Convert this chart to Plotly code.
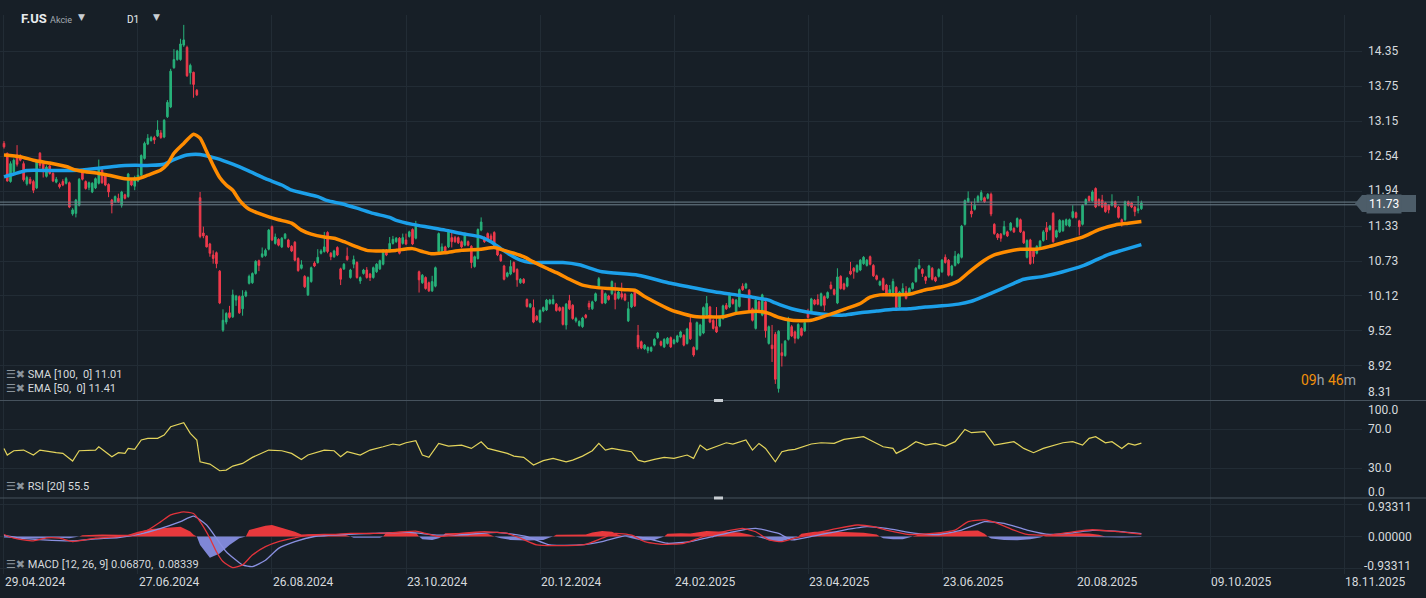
import plotly.graph_objects as go

# ---------------- data ----------------
bar_index = list(range(349))

opens = [
    12.76, 12.59, 12.10, 12.27, 12.56, 12.54, 12.41, 12.06, 12.14, 12.10,
    11.99, 12.59, 12.41, 12.19, 12.37, 12.24, 12.09, 12.05, 12.10, 12.07,
    12.08, 11.54, 11.55, 11.69, 12.25, 12.10, 12.00, 11.92, 11.99, 12.07,
    12.30, 12.21, 12.05, 11.78, 11.75, 11.81, 11.69, 11.87, 11.84, 12.11,
    12.02, 12.11, 12.21, 12.50, 12.75, 12.81, 12.86, 12.89, 12.94, 12.87,
    13.22, 13.39, 14.07, 14.21, 14.21, 14.46, 14.42, 13.98, 13.99, 13.68,
    11.82, 11.21, 11.16, 11.02, 10.83, 10.87, 10.55, 9.53, 9.67, 9.83,
    9.76, 10.05, 10.11, 9.90, 10.12, 10.34, 10.35, 10.51, 10.73, 10.80,
    10.82, 10.93, 11.32, 11.03, 11.10, 10.97, 11.12, 11.09, 10.98, 11.05,
    10.77, 10.60, 10.46, 10.14, 10.37, 10.69, 10.70, 10.86, 10.89, 11.22,
    10.86, 10.80, 10.96, 10.59, 10.59, 10.81, 10.44, 10.67, 10.70, 10.38,
    10.51, 10.57, 10.50, 10.44, 10.54, 10.59, 10.67, 10.91, 10.91, 11.03,
    11.06, 11.12, 11.03, 11.09, 11.15, 11.27, 11.12, 10.54, 10.35, 10.44,
    10.35, 10.21, 10.29, 10.89, 10.87, 10.97, 10.97, 11.13, 11.13, 11.13,
    11.06, 11.00, 11.06, 10.98, 10.63, 10.77, 11.26, 11.13, 11.20, 11.16,
    11.22, 10.97, 10.83, 10.64, 10.46, 10.50, 10.70, 10.58, 10.35, 10.41,
    10.06, 9.93, 9.92, 9.77, 9.67, 9.86, 9.88, 9.99, 9.99, 9.98,
    9.92, 9.92, 9.62, 10.04, 9.96, 9.69, 9.61, 9.59, 9.79, 9.99,
    9.90, 10.04, 10.29, 10.22, 10.00, 10.12, 10.16, 10.16, 10.08, 10.16,
    10.15, 9.69, 9.93, 10.22, 9.44, 9.33, 9.21, 9.18, 9.17, 9.27,
    9.40, 9.33, 9.24, 9.30, 9.40, 9.30, 9.33, 9.41, 9.44, 9.30,
    9.66, 9.23, 9.20, 9.44, 9.48, 9.79, 9.93, 9.70, 9.59, 9.60,
    9.73, 9.96, 9.93, 10.06, 9.82, 9.94, 10.29, 10.26, 10.22, 9.90,
    9.56, 10.02, 9.79, 10.02, 9.30, 9.27, 9.46, 8.52, 9.14, 9.09,
    9.37, 9.59, 9.50, 9.39, 9.56, 9.52, 9.83, 9.85, 10.05, 10.06,
    9.96, 10.11, 10.09, 10.31, 10.23, 10.00, 10.46, 10.33, 10.29, 10.55,
    10.60, 10.54, 10.57, 10.68, 10.65, 10.80, 10.65, 10.47, 10.31, 10.42,
    10.31, 10.17, 10.13, 10.27, 9.93, 10.17, 10.20, 10.17, 10.25, 10.37,
    10.60, 10.58, 10.45, 10.45, 10.60, 10.44, 10.46, 10.54, 10.79, 10.74,
    10.48, 10.65, 10.69, 10.79, 11.36, 11.75, 11.59, 11.62, 11.75, 11.78,
    11.82, 11.81, 11.88, 11.36, 11.19, 11.19, 11.19, 11.23, 11.26, 11.29,
    11.32, 11.44, 11.23, 10.79, 11.09, 10.91, 10.86, 10.97, 11.08, 11.30,
    11.27, 11.55, 11.14, 11.23, 11.25, 11.35, 11.33, 11.48, 11.56, 11.42,
    11.36, 11.71, 11.84, 11.77, 11.98, 11.79, 11.78, 11.73, 11.69, 11.69,
    11.75, 11.66, 11.44, 11.44, 11.75, 11.73, 11.66, 11.60, 11.63,
]
highs = [
    12.80, 12.60, 12.45, 12.50, 12.73, 12.57, 12.45, 12.20, 12.18, 12.13,
    12.46, 12.61, 12.43, 12.38, 12.39, 12.26, 12.18, 12.08, 12.14, 12.18,
    12.10, 11.64, 11.80, 12.16, 12.28, 12.12, 12.10, 12.09, 12.17, 12.48,
    12.33, 12.23, 12.07, 11.80, 11.86, 11.89, 11.94, 11.89, 12.25, 12.14,
    12.20, 12.33, 12.57, 12.79, 12.92, 12.89, 12.89, 13.16, 12.99, 13.18,
    13.51, 14.05, 14.39, 14.38, 14.57, 14.81, 14.45, 14.14, 14.00, 13.70,
    11.92, 11.32, 11.17, 11.04, 10.91, 10.89, 10.57, 9.89, 9.84, 9.95,
    10.23, 10.14, 10.13, 10.22, 10.22, 10.49, 10.53, 10.74, 10.75, 10.96,
    10.94, 11.28, 11.34, 11.20, 11.12, 11.14, 11.21, 11.11, 11.00, 11.07,
    10.79, 10.74, 10.48, 10.46, 10.63, 10.72, 10.93, 10.93, 11.23, 11.24,
    10.88, 10.92, 10.98, 10.61, 10.69, 10.96, 10.59, 10.82, 10.72, 10.46,
    10.59, 10.62, 10.52, 10.63, 10.69, 10.75, 10.93, 10.93, 11.14, 11.16,
    11.14, 11.14, 11.20, 11.20, 11.25, 11.29, 11.42, 10.56, 10.50, 10.46,
    10.37, 10.47, 10.63, 11.22, 11.03, 10.99, 11.27, 11.24, 11.16, 11.15,
    11.08, 11.22, 11.08, 11.00, 10.82, 11.29, 11.48, 11.15, 11.22, 11.20,
    11.24, 10.99, 10.85, 10.66, 10.54, 10.74, 10.72, 10.60, 10.43, 10.43,
    10.08, 10.00, 10.06, 9.79, 9.89, 9.94, 10.07, 10.07, 10.14, 10.00,
    9.94, 9.94, 10.00, 10.14, 9.98, 9.76, 9.70, 9.76, 9.81, 10.04,
    10.04, 10.18, 10.45, 10.24, 10.18, 10.14, 10.39, 10.35, 10.21, 10.35,
    10.17, 10.02, 10.17, 10.24, 9.62, 9.35, 9.29, 9.25, 9.25, 9.39,
    9.50, 9.35, 9.39, 9.41, 9.42, 9.38, 9.45, 9.52, 9.46, 9.57,
    9.76, 9.25, 9.68, 9.64, 9.94, 10.12, 9.95, 9.72, 9.93, 9.75,
    9.97, 10.00, 10.18, 10.08, 10.07, 10.25, 10.34, 10.35, 10.24, 9.92,
    10.10, 10.04, 10.16, 10.04, 9.61, 9.62, 9.50, 9.53, 9.30, 9.36,
    9.76, 9.62, 9.52, 9.65, 9.58, 9.68, 9.90, 10.09, 10.07, 10.15,
    10.18, 10.13, 10.20, 10.37, 10.25, 10.60, 10.48, 10.35, 10.45, 10.71,
    10.62, 10.67, 10.76, 10.81, 10.76, 10.82, 10.67, 10.49, 10.39, 10.44,
    10.33, 10.31, 10.42, 10.29, 10.21, 10.34, 10.29, 10.27, 10.36, 10.62,
    10.76, 10.60, 10.47, 10.66, 10.62, 10.46, 10.60, 10.76, 10.84, 10.76,
    10.66, 10.90, 10.86, 11.35, 11.79, 11.93, 11.75, 11.81, 11.87, 11.95,
    11.84, 11.90, 11.91, 11.38, 11.21, 11.21, 11.42, 11.25, 11.40, 11.31,
    11.48, 11.46, 11.25, 11.10, 11.11, 10.93, 11.00, 11.09, 11.26, 11.40,
    11.35, 11.57, 11.27, 11.45, 11.44, 11.46, 11.46, 11.69, 11.58, 11.44,
    11.71, 11.81, 11.86, 11.95, 12.00, 11.81, 11.87, 11.75, 11.71, 11.88,
    11.77, 11.68, 11.46, 11.77, 11.77, 11.75, 11.68, 11.85, 11.77,
]
lows = [
    12.67, 12.10, 12.08, 12.25, 12.36, 12.45, 12.10, 12.03, 12.05, 11.90,
    11.97, 12.33, 12.17, 12.17, 12.22, 12.09, 12.07, 11.98, 12.02, 12.05,
    11.64, 11.51, 11.48, 11.67, 12.12, 11.96, 11.95, 11.90, 11.97, 12.05,
    12.06, 12.02, 11.83, 11.55, 11.73, 11.73, 11.65, 11.79, 11.82, 12.02,
    11.95, 12.09, 12.19, 12.48, 12.73, 12.79, 12.75, 12.87, 12.84, 12.85,
    13.20, 13.37, 14.05, 14.19, 14.19, 14.43, 13.91, 13.78, 13.55, 13.58,
    11.12, 11.12, 10.96, 10.80, 10.68, 10.60, 9.98, 9.50, 9.63, 9.73,
    9.74, 9.95, 9.81, 9.78, 10.10, 10.32, 10.33, 10.49, 10.55, 10.78,
    10.80, 10.91, 11.07, 11.01, 10.98, 10.95, 11.10, 10.95, 10.88, 10.72,
    10.54, 10.58, 10.26, 10.12, 10.35, 10.62, 10.68, 10.84, 10.87, 10.86,
    10.74, 10.78, 10.81, 10.31, 10.57, 10.73, 10.42, 10.60, 10.42, 10.33,
    10.49, 10.42, 10.38, 10.42, 10.52, 10.57, 10.65, 10.81, 10.89, 11.01,
    11.04, 10.84, 11.01, 11.00, 11.13, 11.00, 11.10, 10.18, 10.33, 10.23,
    10.19, 10.19, 10.27, 10.87, 10.85, 10.87, 10.95, 10.96, 11.04, 11.02,
    10.95, 10.98, 10.98, 10.60, 10.61, 10.75, 11.24, 11.04, 11.07, 11.08,
    10.95, 10.81, 10.71, 10.39, 10.44, 10.48, 10.52, 10.28, 10.33, 10.33,
    9.92, 9.91, 9.65, 9.69, 9.65, 9.84, 9.86, 9.97, 9.97, 9.85,
    9.85, 9.61, 9.54, 9.88, 9.71, 9.66, 9.59, 9.57, 9.73, 9.88,
    9.88, 10.02, 10.27, 9.98, 9.98, 10.04, 10.14, 9.89, 10.06, 10.06,
    10.03, 9.67, 9.91, 9.93, 9.20, 9.20, 9.19, 9.13, 9.15, 9.25,
    9.38, 9.25, 9.22, 9.28, 9.22, 9.28, 9.31, 9.39, 9.25, 9.28,
    9.36, 9.07, 9.18, 9.42, 9.46, 9.77, 9.65, 9.54, 9.48, 9.58,
    9.71, 9.88, 9.91, 9.97, 9.80, 9.92, 10.21, 10.24, 9.83, 9.68,
    9.54, 9.87, 9.77, 9.40, 9.28, 8.98, 8.60, 8.45, 8.90, 9.07,
    9.35, 9.41, 9.30, 9.37, 9.42, 9.50, 9.73, 9.83, 9.96, 9.96,
    9.94, 9.86, 10.07, 10.23, 10.13, 9.98, 10.23, 10.22, 10.27, 10.48,
    10.42, 10.52, 10.55, 10.66, 10.63, 10.65, 10.45, 10.39, 10.29, 10.21,
    10.14, 10.13, 10.11, 9.90, 9.91, 10.15, 10.06, 10.15, 10.23, 10.35,
    10.58, 10.45, 10.33, 10.43, 10.39, 10.36, 10.44, 10.52, 10.68, 10.46,
    10.46, 10.63, 10.67, 10.77, 11.34, 11.73, 11.48, 11.60, 11.73, 11.76,
    11.73, 11.79, 11.50, 11.18, 11.09, 11.06, 11.17, 11.14, 11.24, 11.21,
    11.30, 11.21, 11.02, 10.77, 10.66, 10.68, 10.84, 10.95, 11.06, 11.09,
    11.25, 11.04, 11.12, 11.21, 11.23, 11.33, 11.31, 11.46, 11.46, 11.17,
    11.34, 11.69, 11.75, 11.75, 11.64, 11.67, 11.64, 11.56, 11.55, 11.67,
    11.64, 11.46, 11.32, 11.42, 11.67, 11.64, 11.50, 11.55, 11.61,
]
closes = [
    12.70, 12.11, 12.41, 12.47, 12.40, 12.47, 12.13, 12.17, 12.07, 11.95,
    12.44, 12.38, 12.30, 12.35, 12.24, 12.11, 12.14, 12.01, 12.04, 12.15,
    11.66, 11.61, 11.78, 12.14, 12.14, 11.98, 12.08, 12.07, 12.15, 12.35,
    12.08, 12.04, 11.92, 11.69, 11.84, 11.75, 11.92, 11.81, 12.23, 12.04,
    12.17, 12.21, 12.55, 12.76, 12.85, 12.86, 12.82, 12.99, 12.86, 13.16,
    13.47, 14.01, 14.21, 14.36, 14.48, 14.55, 13.93, 14.11, 13.78, 13.60,
    11.15, 11.16, 10.97, 10.86, 10.77, 10.68, 10.00, 9.70, 9.82, 9.75,
    10.14, 10.12, 9.83, 10.12, 10.19, 10.46, 10.51, 10.72, 10.65, 10.85,
    10.91, 11.26, 11.09, 11.14, 11.00, 11.12, 11.19, 10.97, 10.90, 10.74,
    10.56, 10.66, 10.28, 10.44, 10.61, 10.64, 10.79, 10.90, 10.97, 10.89,
    10.80, 10.90, 10.83, 10.41, 10.67, 10.75, 10.57, 10.75, 10.44, 10.44,
    10.57, 10.44, 10.44, 10.61, 10.67, 10.73, 10.91, 10.83, 11.03, 11.10,
    11.12, 10.86, 11.13, 11.02, 11.23, 11.02, 11.36, 10.40, 10.48, 10.25,
    10.21, 10.37, 10.61, 11.20, 10.97, 10.89, 11.25, 11.06, 11.06, 11.04,
    10.97, 11.20, 11.00, 10.70, 10.80, 11.27, 11.40, 11.06, 11.09, 11.10,
    10.97, 10.83, 10.73, 10.41, 10.52, 10.63, 10.54, 10.40, 10.41, 10.35,
    9.94, 9.98, 9.67, 9.71, 9.87, 9.92, 10.05, 10.05, 10.06, 9.87,
    9.87, 9.63, 9.98, 9.90, 9.73, 9.73, 9.68, 9.74, 9.75, 9.93,
    10.02, 10.16, 10.42, 10.00, 10.16, 10.06, 10.37, 10.06, 10.19, 10.10,
    10.05, 9.90, 10.15, 9.95, 9.24, 9.22, 9.27, 9.23, 9.23, 9.37,
    9.48, 9.27, 9.37, 9.39, 9.24, 9.36, 9.43, 9.50, 9.27, 9.55,
    9.38, 9.10, 9.66, 9.62, 9.92, 9.99, 9.67, 9.56, 9.50, 9.73,
    9.95, 9.90, 10.16, 9.99, 10.05, 10.23, 10.23, 10.33, 9.85, 9.70,
    10.05, 9.89, 10.14, 9.52, 9.59, 9.21, 8.68, 9.51, 9.09, 9.34,
    9.70, 9.43, 9.39, 9.63, 9.44, 9.66, 9.75, 10.07, 9.98, 9.98,
    10.16, 9.96, 10.18, 10.25, 10.15, 10.45, 10.25, 10.24, 10.43, 10.50,
    10.55, 10.65, 10.74, 10.79, 10.74, 10.67, 10.47, 10.41, 10.37, 10.23,
    10.16, 10.23, 10.37, 9.92, 10.19, 10.25, 10.08, 10.25, 10.34, 10.60,
    10.65, 10.51, 10.39, 10.64, 10.41, 10.38, 10.58, 10.74, 10.70, 10.48,
    10.64, 10.81, 10.84, 11.33, 11.77, 11.81, 11.54, 11.69, 11.84, 11.91,
    11.75, 11.88, 11.54, 11.20, 11.13, 11.12, 11.32, 11.16, 11.38, 11.23,
    11.46, 11.23, 11.04, 11.08, 10.68, 10.80, 10.98, 11.07, 11.23, 11.23,
    11.33, 11.06, 11.25, 11.43, 11.42, 11.44, 11.44, 11.58, 11.48, 11.32,
    11.69, 11.79, 11.77, 11.92, 11.66, 11.69, 11.66, 11.58, 11.61, 11.75,
    11.66, 11.48, 11.40, 11.75, 11.69, 11.66, 11.58, 11.63, 11.73,
]

sma_points = [
    (0, 12.18), (3, 12.23), (7, 12.29), (14, 12.29), (19, 12.29), (24, 12.30), (29, 12.33),
    (35, 12.37), (40, 12.38), (45, 12.38), (49, 12.40), (52, 12.48), (56, 12.56), (60, 12.57),
    (65, 12.50), (70, 12.40), (75, 12.28), (80, 12.15), (85, 12.04), (88, 11.95), (93, 11.88),
    (96, 11.84), (99, 11.77), (103, 11.72), (108, 11.64), (113, 11.55), (118, 11.48), (120, 11.43),
    (125, 11.36), (130, 11.31), (135, 11.26), (140, 11.20), (146, 11.14), (149, 11.06), (152, 10.94),
    (155, 10.83), (158, 10.74), (161, 10.70), (166, 10.70), (171, 10.70), (176, 10.66), (183, 10.54),
    (194, 10.48), (204, 10.34), (214, 10.23), (219, 10.18), (224, 10.14), (229, 10.10), (234, 10.05),
    (236, 10.00), (241, 9.90), (247, 9.83), (250, 9.81), (257, 9.79), (262, 9.83), (267, 9.86),
    (272, 9.89), (277, 9.90), (282, 9.93), (287, 9.95), (292, 9.98), (296, 10.03), (300, 10.12),
    (305, 10.24), (309, 10.34), (312, 10.41), (318, 10.46), (324, 10.54), (330, 10.64), (334, 10.74),
    (338, 10.84), (342, 10.91), (348, 11.01),
]
ema_points = [
    (0, 12.56), (5, 12.53), (9, 12.47), (14, 12.42), (19, 12.36), (22, 12.30), (25, 12.27),
    (29, 12.24), (32, 12.21), (37, 12.15), (41, 12.15), (44, 12.21), (48, 12.30), (50, 12.40),
    (52, 12.59), (55, 12.76), (58, 12.92), (60, 12.85), (62, 12.62), (64, 12.38), (66, 12.17),
    (68, 12.04), (70, 11.95), (72, 11.78), (75, 11.62), (78, 11.55), (81, 11.49), (84, 11.44),
    (88, 11.38), (91, 11.26), (94, 11.19), (98, 11.14), (101, 11.12), (104, 11.06), (108, 10.97),
    (111, 10.91), (114, 10.90), (118, 10.90), (120, 10.91), (125, 10.94), (128, 10.89), (131, 10.85),
    (135, 10.87), (140, 10.91), (146, 10.93), (150, 10.96), (153, 10.91), (156, 10.86), (159, 10.80),
    (162, 10.71), (166, 10.60), (170, 10.50), (173, 10.41), (177, 10.31), (181, 10.27), (185, 10.25),
    (190, 10.23), (193, 10.22), (196, 10.11), (200, 9.99), (204, 9.88), (208, 9.81), (212, 9.76),
    (216, 9.76), (220, 9.76), (224, 9.82), (228, 9.85), (232, 9.85), (234, 9.82), (237, 9.75),
    (241, 9.70), (247, 9.70), (252, 9.79), (257, 9.89), (262, 9.99), (265, 10.10), (268, 10.14),
    (272, 10.14), (277, 10.15), (282, 10.23), (287, 10.28), (292, 10.38), (296, 10.57), (300, 10.74),
    (303, 10.83), (307, 10.89), (311, 10.93), (316, 10.93), (320, 10.98), (325, 11.06), (330, 11.14),
    (335, 11.27), (340, 11.35), (344, 11.38), (348, 11.41),
]
rsi_points = [
    (0, 50.1), (1, 43.3), (3, 47.7), (6, 48.4), (9, 43.3), (11, 48.4), (16, 45.7), (18, 45.0),
    (21, 37.1), (23, 47.7), (28, 48.4), (29, 51.8), (31, 46.7), (33, 41.6), (35, 45.7), (37, 45.0),
    (38, 50.1), (40, 49.1), (42, 58.7), (44, 60.4), (47, 60.4), (49, 63.8), (51, 72.3), (53, 74.7),
    (55, 76.4), (57, 65.5), (59, 58.7), (60, 36.4), (63, 34.0), (66, 27.2), (68, 27.9), (70, 32.0),
    (73, 34.7), (76, 40.9), (81, 48.4), (85, 47.7), (88, 45.0), (91, 38.8), (93, 43.3), (98, 48.4),
    (101, 47.7), (103, 41.6), (105, 46.7), (109, 43.3), (112, 48.4), (116, 51.8), (119, 54.6),
    (121, 53.5), (123, 55.9), (126, 58.0), (128, 43.3), (130, 40.9), (133, 55.2), (136, 52.5),
    (140, 53.5), (143, 50.1), (146, 56.9), (148, 50.1), (152, 46.7), (154, 45.0), (156, 42.2),
    (159, 40.9), (162, 33.0), (165, 37.5), (168, 39.9), (172, 36.4), (174, 38.1), (177, 42.2),
    (180, 47.7), (182, 55.2), (184, 48.4), (186, 50.1), (189, 48.4), (192, 46.7), (194, 38.1),
    (196, 36.4), (199, 38.8), (202, 40.9), (205, 39.9), (209, 43.3), (211, 39.9), (213, 53.5),
    (215, 48.4), (218, 51.8), (221, 55.9), (223, 54.6), (227, 58.7), (229, 48.4), (231, 55.2),
    (233, 50.1), (236, 36.4), (238, 46.7), (240, 48.4), (242, 49.1), (247, 54.6), (250, 55.9),
    (254, 55.2), (257, 59.3), (260, 60.4), (263, 62.1), (266, 57.0), (269, 51.8), (272, 50.1),
    (273, 45.0), (276, 50.1), (279, 57.0), (282, 53.5), (285, 55.2), (288, 52.5), (291, 57.0),
    (294, 69.6), (296, 66.2), (300, 67.2), (303, 53.5), (306, 55.2), (309, 57.0), (312, 50.1),
    (315, 45.7), (318, 50.1), (320, 51.8), (324, 55.9), (327, 57.0), (330, 53.5), (332, 60.4),
    (334, 62.1), (337, 55.9), (339, 57.0), (342, 50.1), (344, 55.2), (346, 53.5), (348, 55.5),
]
macd_points = [
    (0, 0.06), (3, -0.05), (9, -0.13), (13, -0.04), (17, -0.05), (21, -0.15), (28, -0.05),
    (35, 0.0), (39, 0.04), (44, 0.19), (48, 0.44), (51, 0.64), (55, 0.73), (58, 0.68), (60, 0.44),
    (63, -0.05), (65, -0.45), (67, -0.74), (70, -0.92), (73, -0.84), (76, -0.55), (80, -0.30),
    (84, -0.15), (89, -0.04), (93, 0.04), (100, 0.06), (106, 0.09), (113, 0.09), (120, 0.12),
    (126, 0.16), (129, 0.09), (133, 0.0), (140, 0.09), (147, 0.14), (154, 0.09), (158, -0.05),
    (163, -0.25), (169, -0.27), (178, -0.23), (183, -0.05), (187, 0.09), (192, 0.04), (196, -0.15),
    (201, -0.23), (208, -0.20), (214, 0.0), (221, 0.16), (226, 0.24), (230, 0.14), (234, -0.10),
    (238, -0.15), (242, -0.05), (248, 0.09), (255, 0.24), (261, 0.34), (266, 0.29), (270, 0.19),
    (277, 0.06), (284, 0.09), (291, 0.19), (295, 0.44), (300, 0.49), (304, 0.39), (309, 0.19),
    (313, 0.06), (320, 0.04), (327, 0.14), (333, 0.20), (340, 0.15), (348, 0.0687),
]
signal_points = [
    (0, 0.03), (5, -0.05), (12, -0.10), (21, -0.13), (28, -0.07), (35, -0.03), (41, 0.06),
    (48, 0.24), (54, 0.44), (58, 0.60), (62, 0.34), (65, -0.05), (68, -0.45), (73, -0.84),
    (76, -0.89), (80, -0.70), (84, -0.35), (89, -0.15), (95, 0.0), (104, 0.06), (113, 0.09),
    (124, 0.12), (133, 0.04), (142, 0.06), (151, 0.12), (160, 0.0), (167, -0.25), (176, -0.25),
    (183, -0.15), (190, 0.02), (196, -0.04), (203, -0.20), (210, -0.15), (217, 0.0), (223, 0.14),
    (230, 0.24), (237, 0.09), (241, -0.10), (248, 0.02), (257, 0.19), (264, 0.29), (270, 0.24),
    (279, 0.09), (286, 0.06), (293, 0.19), (300, 0.44), (306, 0.39), (313, 0.19), (320, 0.06),
    (327, 0.11), (333, 0.18), (340, 0.16), (348, 0.0834),
]
hist_points = [
    (0, -0.03), (5, -0.05), (10, -0.06), (15, -0.03), (20, -0.05), (23, 0.0), (24, 0.04), (30, 0.06),
    (35, 0.05), (38, 0.05), (41, 0.14), (45, 0.22), (50, 0.26), (54, 0.29), (57, 0.15), (58, 0.05),
    (59, 0.0), (60, -0.25), (63, -0.63), (66, -0.50), (69, -0.25), (72, -0.05), (74, 0.0), (75, 0.19),
    (80, 0.32), (82, 0.34), (85, 0.26), (89, 0.14), (91, 0.06), (93, 0.07), (98, 0.08), (104, 0.06),
    (106, 0.0), (107, -0.04), (112, -0.05), (115, -0.04), (116, 0.0), (117, 0.12), (122, 0.14),
    (126, 0.12), (127, 0.0), (128, -0.08), (131, -0.10), (133, -0.05), (134, 0.0), (135, 0.10),
    (140, 0.12), (145, 0.12), (148, 0.08), (150, 0.0), (152, -0.05), (155, -0.10), (160, -0.12),
    (165, -0.10), (167, -0.03), (168, 0.0), (169, 0.05), (174, 0.06), (178, 0.06), (180, 0.12),
    (183, 0.16), (186, 0.14), (188, 0.05), (190, 0.0), (192, -0.05), (195, -0.12), (199, -0.10),
    (201, -0.03), (202, 0.0), (203, 0.08), (207, 0.10), (210, 0.09), (212, 0.12), (215, 0.16),
    (220, 0.14), (225, 0.12), (228, 0.06), (230, 0.0), (232, -0.05), (235, -0.13), (238, -0.14),
    (241, -0.06), (243, 0.0), (244, 0.08), (248, 0.14), (253, 0.15), (258, 0.14), (263, 0.11),
    (267, 0.06), (268, 0.0), (269, -0.05), (272, -0.08), (275, -0.08), (277, -0.03), (278, 0.0),
    (280, 0.06), (285, 0.10), (290, 0.12), (295, 0.17), (298, 0.18), (300, 0.08), (301, 0.0),
    (302, -0.06), (306, -0.10), (310, -0.11), (314, -0.08), (317, -0.03), (318, 0.0), (320, 0.04),
    (324, 0.08), (328, 0.10), (332, 0.09), (335, 0.05), (337, 0.0), (338, -0.02), (342, -0.03),
    (345, -0.02), (348, -0.015),
]

date_tick_idx = [0, 41, 82, 123, 164, 205, 246, 287, 328, 369, 410]
date_tick_text = ["29.04.2024", "27.06.2024", "26.08.2024", "23.10.2024", "20.12.2024", "24.02.2025",
                  "23.04.2025", "23.06.2025", "20.08.2025", "09.10.2025", "18.11.2025"]
price_tick_vals = [14.35, 13.746, 13.142, 12.538, 11.934, 11.33, 10.726, 10.122, 9.518, 8.914, 8.313]
price_tick_text = ["14.35", "13.75", "13.15", "12.54", "11.94", "11.33", "10.73", "10.12", "9.52", "8.92", "8.31"]
rsi_tick_vals = [100, 70, 30, 0]
rsi_tick_text = ["100.0", "70.0", "30.0", "0.0"]
macd_tick_vals = [0.93311, 0.0, -0.93311]
macd_tick_text = ["0.93311", "0.00000", "-0.93311"]
last_price = 11.73
quote_lines = [11.745, 11.698]
sma_last, ema_last, rsi_last = 11.01, 11.41, 55.5
macd_last, signal_last = 0.06870, 0.08339

# ---------------- geometry / style ----------------
W, H = 1426, 598
ML, MR, MT, MB = 0, 64, 15, 24
PW, PH = W - ML - MR, H - MT - MB
BG = "#171f27"
GRID = "#222c35"
SEP = "#46525d"
TXT = "#d6dade"
FONT = "Roboto, 'Noto Sans', 'DejaVu Sans', sans-serif"
GREEN, RED = "#27b27a", "#ef3a4c"


def py(p):
    return (H - MB - p) / PH


def pxp(p):
    return (p - ML) / PW


XR = [-1.22, 415.5]
price_dom = [py(400.5), 1.0]
rsi_dom = [py(498), py(400.5)]
macd_dom = [0.0, py(498)]

fig = go.Figure()

fig.add_trace(go.Candlestick(
    x=bar_index, open=opens, high=highs, low=lows, close=closes,
    increasing=dict(line=dict(color=GREEN, width=1), fillcolor=GREEN),
    decreasing=dict(line=dict(color=RED, width=1), fillcolor=RED),
    whiskerwidth=0, hoverinfo="skip", showlegend=False, xaxis="x", yaxis="y"))

for q in quote_lines:
    fig.add_trace(go.Scatter(x=[XR[0], XR[1]], y=[q, q], mode="lines",
                             line=dict(color="#6f808c", width=1), hoverinfo="skip",
                             showlegend=False, xaxis="x", yaxis="y"))

fig.add_trace(go.Scatter(x=[p[0] for p in sma_points], y=[p[1] for p in sma_points], mode="lines",
                         line=dict(color="#1ca0ea", width=3.5, shape="spline", smoothing=0.6),
                         hoverinfo="skip", showlegend=False, xaxis="x", yaxis="y"))
fig.add_trace(go.Scatter(x=[p[0] for p in ema_points], y=[p[1] for p in ema_points], mode="lines",
                         line=dict(color="#ff8c00", width=3.5, shape="spline", smoothing=0.6),
                         hoverinfo="skip", showlegend=False, xaxis="x", yaxis="y"))

fig.add_trace(go.Scatter(x=[p[0] for p in rsi_points], y=[p[1] for p in rsi_points], mode="lines",
                         line=dict(color="#e3d45c", width=1.2), hoverinfo="skip",
                         showlegend=False, xaxis="x2", yaxis="y2"))

h_idx = [p[0] for p in hist_points]
h_val = [p[1] for p in hist_points]
fig.add_trace(go.Scatter(x=h_idx, y=[v if v > 0 else 0 for v in h_val], mode="lines",
                         line=dict(width=0, color="#e8393d"), fill="tozeroy", fillcolor="#e8393d",
                         hoverinfo="skip", showlegend=False, xaxis="x3", yaxis="y3"))
fig.add_trace(go.Scatter(x=h_idx, y=[v if v < 0 else 0 for v in h_val], mode="lines",
                         line=dict(width=0, color="#7f87d6"), fill="tozeroy", fillcolor="#7f87d6",
                         hoverinfo="skip", showlegend=False, xaxis="x3", yaxis="y3"))
fig.add_trace(go.Scatter(x=[p[0] for p in signal_points], y=[p[1] for p in signal_points], mode="lines",
                         line=dict(color="#8a90e0", width=1.3, shape="spline", smoothing=0.5),
                         hoverinfo="skip", showlegend=False, xaxis="x3", yaxis="y3"))
fig.add_trace(go.Scatter(x=[p[0] for p in macd_points], y=[p[1] for p in macd_points], mode="lines",
                         line=dict(color="#e2333b", width=1.3, shape="spline", smoothing=0.5),
                         hoverinfo="skip", showlegend=False, xaxis="x3", yaxis="y3"))

xcommon = dict(range=XR, showticklabels=False, tickvals=date_tick_idx, showgrid=True,
               gridcolor=GRID, gridwidth=1, zeroline=False, showline=False, ticks="", fixedrange=True)
ycommon = dict(showticklabels=False, showgrid=True, gridcolor=GRID, gridwidth=1, zeroline=False,
               showline=False, ticks="", side="right", fixedrange=True)

fig.update_layout(
    width=W, height=H, margin=dict(l=ML, r=MR, t=MT, b=MB),
    paper_bgcolor=BG, plot_bgcolor=BG, hovermode=False, showlegend=False,
    font=dict(family=FONT, color=TXT, size=12),
    xaxis=dict(xcommon, anchor="y", rangeslider=dict(visible=False)),
    xaxis2=dict(xcommon, anchor="y2", matches="x"),
    xaxis3=dict(xcommon, anchor="y3", matches="x"),
    yaxis=dict(ycommon, domain=price_dom, range=[8.313, 14.981], tickvals=price_tick_vals[:-1]),
    yaxis2=dict(ycommon, domain=rsi_dom, range=[-0.77, 99.23], tickvals=[70, 30]),
    yaxis3=dict(ycommon, domain=macd_dom, range=[-1.109, 1.139], tickvals=macd_tick_vals),
)

shapes = []
for yy in (400.5, 498):
    shapes.append(dict(type="line", xref="paper", yref="paper", x0=pxp(0), x1=pxp(W),
                       y0=py(yy), y1=py(yy), line=dict(color=SEP, width=1)))
    shapes.append(dict(type="rect", xref="paper", yref="paper", x0=pxp(714), x1=pxp(723),
                       y0=py(yy + 1.5), y1=py(yy - 1.5), line=dict(width=0), fillcolor="#c9ced3"))
bx0, bx1, by0, by1, tip = 1362, 1416, 195, 212, 1355
path = (f"M {pxp(tip)} {py((by0 + by1) / 2)} L {pxp(bx0)} {py(by0)} L {pxp(bx1)} {py(by0)} "
        f"L {pxp(bx1)} {py(by1)} L {pxp(bx0)} {py(by1)} Z")
shapes.append(dict(type="path", xref="paper", yref="paper", path=path,
                   fillcolor="#4d5d69", line=dict(width=0)))
fig.update_layout(shapes=shapes)

ann = []
XL = pxp(1366)
for v, t in zip(price_tick_vals, price_tick_text):
    if t == "8.31":
        ann.append(dict(x=XL, xref="paper", y=py(400.5), yref="paper", text=t, showarrow=False,
                        xanchor="left", yanchor="bottom", font=dict(size=12, color=TXT)))
    elif t == "11.94":
        ann.append(dict(x=XL, xref="paper", y=v, yref="y", text=t, showarrow=False,
                        xanchor="left", yanchor="middle", yshift=1, font=dict(size=12, color=TXT)))
    else:
        ann.append(dict(x=XL, xref="paper", y=v, yref="y", text=t, showarrow=False,
                        xanchor="left", yanchor="middle", font=dict(size=12, color=TXT)))
ann.append(dict(x=XL, xref="paper", y=py(203.5), yref="paper", text=f"{last_price:.2f}", showarrow=False,
                xanchor="left", yanchor="middle", bgcolor="#4d5d69", borderpad=2,
                font=dict(size=12, color="#ffffff")))
rsi_anchor = {"100.0": ("top", py(401), 0), "0.0": ("bottom", py(498), -3)}
for v, t in zip(rsi_tick_vals, rsi_tick_text):
    if t in rsi_anchor:
        ya, yp, ys = rsi_anchor[t]
        ann.append(dict(x=XL, xref="paper", y=yp, yref="paper", text=t, showarrow=False, yshift=ys,
                        xanchor="left", yanchor=ya, font=dict(size=12, color=TXT)))
    else:
        ann.append(dict(x=XL, xref="paper", y=v, yref="y2", text=t, showarrow=False,
                        xanchor="left", yanchor="middle", font=dict(size=12, color=TXT)))
for v, t in zip(macd_tick_vals, macd_tick_text):
    if t == "0.93311":
        ann.append(dict(x=XL, xref="paper", y=py(498), yref="paper", text=t, showarrow=False,
                        xanchor="left", yanchor="top", font=dict(size=12, color=TXT)))
    elif t == "0.00000":
        ann.append(dict(x=XL, xref="paper", y=v, yref="y3", text=t, showarrow=False,
                        xanchor="left", yanchor="middle", font=dict(size=12, color=TXT)))
    else:
        ann.append(dict(x=pxp(1362), xref="paper", y=v, yref="y3", text=t, showarrow=False,
                        xanchor="left", yanchor="middle", yshift=2, font=dict(size=12, color=TXT)))
for i, t in zip(date_tick_idx, date_tick_text):
    ann.append(dict(x=i, xref="x3", y=py(582), yref="paper", text=t, showarrow=False,
                    xanchor="left", yanchor="middle", xshift=-1, font=dict(size=12, color=TXT)))

icon = "<span style='color:#8b949c'>☰✖</span> "
ann += [
    dict(x=pxp(4), xref="paper", y=py(374), yref="paper", showarrow=False, xanchor="left",
         yanchor="middle", font=dict(size=11, color=TXT),
         text=icon + f"SMA [100,&nbsp; 0] {sma_last:.2f}"),
    dict(x=pxp(4), xref="paper", y=py(388), yref="paper", showarrow=False, xanchor="left",
         yanchor="middle", font=dict(size=11, color=TXT),
         text=icon + f"EMA [50,&nbsp; 0] {ema_last:.2f}"),
    dict(x=pxp(4), xref="paper", y=py(486), yref="paper", showarrow=False, xanchor="left",
         yanchor="middle", font=dict(size=11, color=TXT),
         text=icon + f"RSI [20] {rsi_last:.1f}"),
    dict(x=pxp(4), xref="paper", y=py(564), yref="paper", showarrow=False, xanchor="left",
         yanchor="middle", font=dict(size=11, color=TXT),
         text=icon + f"MACD [12, 26, 9] {macd_last:.5f},&nbsp; {signal_last:.5f}"),
    dict(x=pxp(1299), xref="paper", y=py(380), yref="paper", showarrow=False, xanchor="left",
         yanchor="middle", font=dict(size=14, color="#9aa3ab"),
         text="<span style='color:#f0900c'>09</span>h <span style='color:#f0900c'>46</span>m"),
    dict(x=pxp(19), xref="paper", y=py(18), yref="paper", showarrow=False, xanchor="left",
         yanchor="middle", font=dict(size=13, color="#e8ebee"),
         text="<b>F.US</b> <span style='font-size:9px;color:#a3abb2'>Akcie</span>"),
    dict(x=pxp(76), xref="paper", y=py(17), yref="paper", showarrow=False, xanchor="left",
         yanchor="middle", font=dict(size=9, color="#c9ced3"), text="▼"),
    dict(x=pxp(125), xref="paper", y=py(20), yref="paper", showarrow=False, xanchor="left",
         yanchor="middle", font=dict(size=10, color="#e8ebee"), text="D1"),
    dict(x=pxp(151), xref="paper", y=py(17), yref="paper", showarrow=False, xanchor="left",
         yanchor="middle", font=dict(size=9, color="#c9ced3"), text="▼"),
]
fig.update_layout(annotations=ann)

fig.write_html("out.html", config={"displayModeBar": False},
               post_script="document.body.style.margin='0';document.body.style.overflow='hidden';")
